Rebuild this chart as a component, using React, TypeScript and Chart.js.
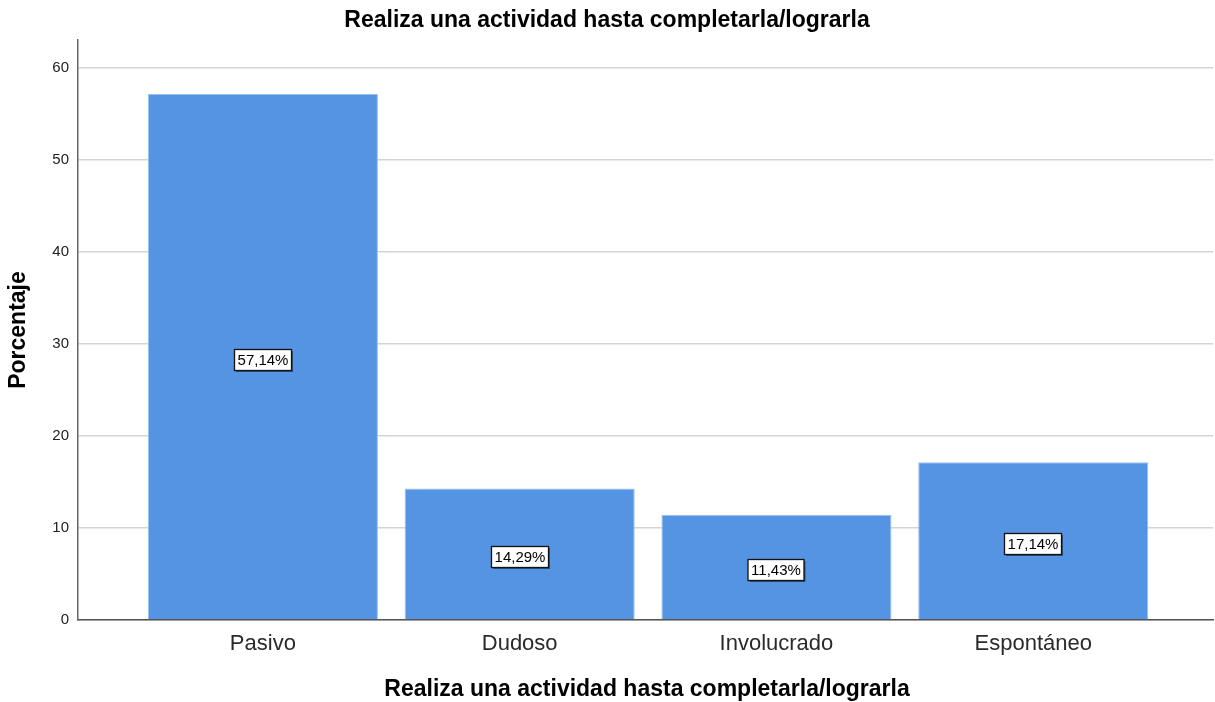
import React, { useEffect, useRef } from "react";
import { Chart, registerables } from "chart.js";

Chart.register(...registerables);

const categories = ["Pasivo", "Dudoso", "Involucrado", "Espontáneo"];
const percentValues = [57.14, 14.29, 11.43, 17.14];
const valueLabels = ["57,14%", "14,29%", "11,43%", "17,14%"];
const yTicks = [0, 10, 20, 30, 40, 50, 60];
const chartTitle = "Realiza una actividad hasta completarla/lograrla";
const xTitle = "Realiza una actividad hasta completarla/lograrla";
const yTitle = "Porcentaje";

const FONT = "'Liberation Sans', Arial, sans-serif";

const decorPlugin = {
  id: "decor",
  afterDatasetsDraw(chart: any) {
    const ctx = chart.ctx;
    const meta = chart.getDatasetMeta(0);
    const yScale = chart.scales.y;
    ctx.save();
    ctx.font = `15px ${FONT}`;
    ctx.textAlign = "center";
    ctx.textBaseline = "middle";
    meta.data.forEach((bar: any, i: number) => {
      const v = percentValues[i];
      const cx = Math.round(bar.x);
      const cy = Math.round(yScale.getPixelForValue(v / 2)) + 3;
      const text = valueLabels[i];
      const w = Math.round(ctx.measureText(text).width + 6);
      const h = 21;
      ctx.fillStyle = "rgba(0,0,0,0.45)";
      ctx.fillRect(cx - w / 2 + 1.5, cy - h / 2 + 1.5, w, h);
      ctx.fillStyle = "#ffffff";
      ctx.fillRect(cx - w / 2, cy - h / 2, w, h);
      ctx.strokeStyle = "#111111";
      ctx.lineWidth = 1.3;
      ctx.strokeRect(cx - w / 2, cy - h / 2, w, h);
      ctx.fillStyle = "#000000";
      ctx.fillText(text, cx, cy + 1);
    });
    ctx.restore();
  },
  afterDraw(chart: any) {
    const ctx = chart.ctx;
    ctx.save();
    ctx.fillStyle = "#000000";
    ctx.textAlign = "center";
    ctx.textBaseline = "middle";
    ctx.font = `bold 23px ${FONT}`;
    ctx.fillText(chartTitle, 607, 21);
    ctx.fillText(xTitle, 647, 690);
    ctx.translate(19, 330);
    ctx.rotate(-Math.PI / 2);
    ctx.fillText(yTitle, 0, 0);
    ctx.restore();
  },
};

export default function App() {
  const canvasRef = useRef<HTMLCanvasElement | null>(null);

  useEffect(() => {
    document.body.style.margin = "0";
    const canvas = canvasRef.current;
    if (!canvas) return;
    const chart = new Chart(canvas, {
      type: "bar",
      data: {
        datasets: [
          {
            data: percentValues.map((v, i) => ({ x: i, y: v })),
            backgroundColor: "#5594e3",
            borderColor: "#9cc0ee",
            borderWidth: 1,
            categoryPercentage: 1,
            barPercentage: 0.896,
          },
        ],
      },
      options: {
        responsive: false,
        animation: false,
        maintainAspectRatio: false,
        layout: { padding: { left: 0, right: 2, top: 40, bottom: 0 } },
        plugins: {
          legend: { display: false },
          title: { display: false },
          tooltip: { enabled: false },
        },
        scales: {
          x: {
            type: "linear",
            offset: false,
            min: -0.72,
            max: 3.7,
            afterFit: (scale: any) => {
              scale.height = 82;
            },
            afterBuildTicks: (scale: any) => {
              scale.ticks = categories.map((_, i) => ({ value: i }));
            },
            grid: { display: false, drawTicks: false },
            border: { display: true, color: "#555555", width: 1.5 },
            ticks: {
              padding: 11,
              color: "#2a2a2a",
              font: { family: FONT, size: 22 },
              maxRotation: 0,
              autoSkip: false,
              callback: (v: any) => categories[Math.round(Number(v))] ?? "",
            },
          },
          y: {
            type: "linear",
            min: 0,
            max: 63,
            afterFit: (scale: any) => {
              scale.width = 78;
            },
            afterBuildTicks: (scale: any) => {
              scale.ticks = yTicks.map((v) => ({ value: v }));
            },
            grid: { color: "#d4d4d4", lineWidth: 1.5, drawTicks: false },
            border: { display: true, color: "#666666", width: 1.5 },
            ticks: {
              padding: 9,
              color: "#222222",
              font: { family: FONT, size: 15 },
              callback: (v: any) => String(v),
            },
          },
        },
      },
      plugins: [decorPlugin],
    });
    return () => chart.destroy();
  }, []);

  return (
    <div style={{ width: 1215, height: 702, background: "#ffffff" }}>
      <canvas ref={canvasRef} width={1215} height={702} style={{ display: "block" }} />
    </div>
  );
}
